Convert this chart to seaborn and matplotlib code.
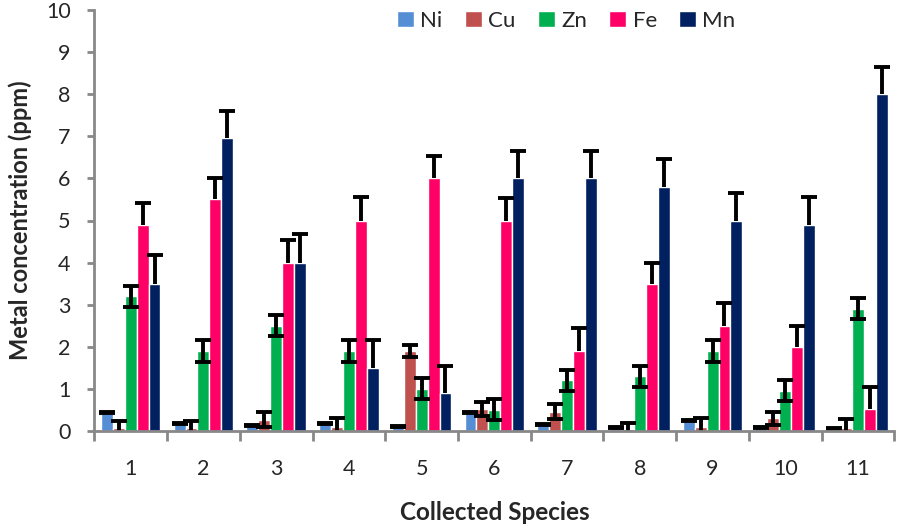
import pandas as pd
import matplotlib.pyplot as plt
import seaborn as sns

species = ['1', '2', '3', '4', '5', '6', '7', '8', '9', '10', '11']
metals = ['Ni', 'Cu', 'Zn', 'Fe', 'Mn']

ni = [0.42, 0.16, 0.12, 0.16, 0.1, 0.43, 0.15, 0.07, 0.24, 0.07, 0.04]
cu = [0.08, 0.08, 0.27, 0.1, 1.9, 0.53, 0.46, 0.05, 0.1, 0.3, 0.08]
zn = [3.2, 1.9, 2.5, 1.9, 1.0, 0.5, 1.2, 1.3, 1.9, 0.96, 2.9]
fe = [4.9, 5.5, 4.0, 5.0, 6.0, 5.0, 1.9, 3.5, 2.5, 2.0, 0.52]
mn = [3.5, 6.95, 4.0, 1.5, 0.9, 6.0, 6.0, 5.8, 5.0, 4.9, 8.0]

# error bars: (down, up)
ni_err = ([0] * 11, [0.02] * 11)
cu_err = ([0.15, 0.15, 0.18, 0.2, 0.15, 0.17, 0.18, 0.15, 0.2, 0.16, 0.2],
          [0.15, 0.15, 0.18, 0.2, 0.15, 0.17, 0.18, 0.15, 0.2, 0.16, 0.2])
zn_err = ([0.25] * 11, [0.25] * 11)
fe_err = ([0] * 11, [0.52, 0.5, 0.53, 0.55, 0.53, 0.53, 0.55, 0.5, 0.53, 0.5, 0.53])
mn_err = ([0] * 11, [0.67, 0.65, 0.67, 0.65, 0.65, 0.65, 0.65, 0.65, 0.65, 0.65, 0.65])
# only the upper half is drawn for these
up_only = [False, False, False, True, True]

colors = ['#558ED5', '#C0504D', '#00B050', '#FF0066', '#002060']

values = [ni, cu, zn, fe, mn]
errors = [ni_err, cu_err, zn_err, fe_err, mn_err]

rows = []
for m, vals in zip(metals, values):
    for s, v in zip(species, vals):
        rows.append([s, m, v])
df = pd.DataFrame(rows, columns=['Species', 'Metal', 'Value'])

sns.set_style('white')
plt.rcParams['font.family'] = ['Lato', 'DejaVu Sans']

fig, ax = plt.subplots(figsize=(8.98, 5.25), dpi=100)
sns.barplot(data=df, x='Species', y='Value', hue='Metal',
            palette=colors, errorbar=None, width=0.82,
            saturation=1, ax=ax)

for cont, err, up in zip(ax.containers, errors, up_only):
    xs = [b.get_x() + b.get_width() / 2 for b in cont]
    ys = [b.get_height() for b in cont]
    eb = ax.errorbar(xs, ys, yerr=[err[0], err[1]], fmt='none',
                     ecolor='black', elinewidth=2.8, capsize=5.5,
                     capthick=2.8)
    if up:
        eb[1][0].set_visible(False)

ax.set_ylim(0, 10)
ax.set_xlim(-0.5, 10.5)
ax.set_yticks(range(0, 11))
ax.tick_params(axis='y', labelsize=15.5, length=5, width=2, color='#888888',
               direction='out', left=True, pad=12)
ax.set_xticks([i + 0.5 for i in range(-1, 11)], minor=True)
ax.tick_params(axis='x', which='minor', length=7, width=2, color='#888888',
               direction='out', bottom=True)
ax.tick_params(axis='x', which='major', length=0, labelsize=15.5, pad=20)

for side in ['top', 'right']:
    ax.spines[side].set_visible(False)
for side in ['left', 'bottom']:
    ax.spines[side].set_color('#888888')
    ax.spines[side].set_linewidth(2)

ax.set_ylabel('Metal concentration (ppm)', fontsize=17, fontweight='bold',
              labelpad=10)
ax.set_xlabel('Collected Species', fontsize=17.5, fontweight='bold',
              labelpad=16)

ax.legend(loc='upper center', bbox_to_anchor=(0.59, 1.045), ncol=5,
          frameon=False, fontsize=16, handlelength=0.75, handleheight=0.75,
          handletextpad=0.3, columnspacing=1.0)

plt.subplots_adjust(left=0.105, right=0.996, top=0.981, bottom=0.179)
plt.savefig('out.png')
